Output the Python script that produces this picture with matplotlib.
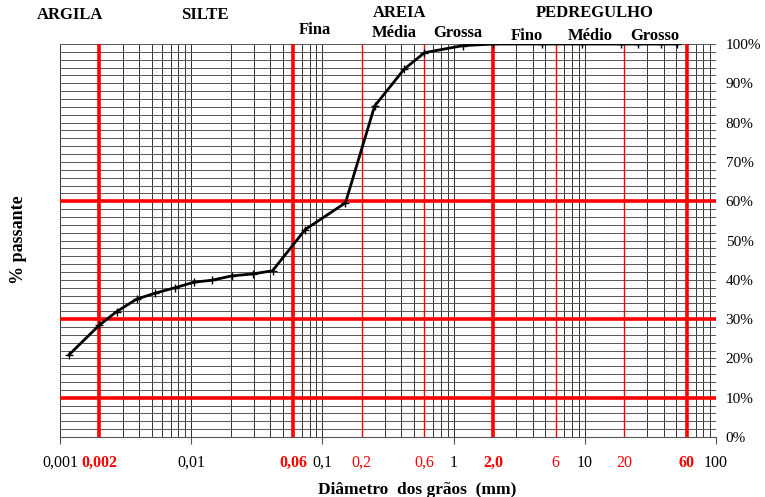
import matplotlib.pyplot as plt
import numpy as np

plt.rcParams['font.family'] = ['Liberation Serif', 'DejaVu Serif']

# curva granulométrica (diâmetro em mm, % passante)
diam = [0.00117, 0.002, 0.0027, 0.00385, 0.0053, 0.00755, 0.0105, 0.0144,
        0.0204, 0.0294, 0.0417, 0.074, 0.15, 0.25, 0.42, 0.6, 1.18, 2.0,
        4.75, 9.5, 19.0, 25.4, 38.0, 50.8]
passante = [20.9, 28.5, 31.9, 35.1, 36.6, 38.0, 39.4, 39.9,
            41.0, 41.5, 42.3, 52.8, 59.6, 84.2, 93.6, 97.8, 99.6, 100.0,
            100.0, 100.0, 100.0, 100.0, 100.0, 100.0]

# linhas de referência
red_thick_x = [0.002, 0.06, 2.0, 60]
red_thin_x = [0.2, 0.6, 6, 20]
red_y = [10, 30, 60]

xtick_pos = [0.001, 0.002, 0.01, 0.06, 0.1, 0.2, 0.6, 1, 2.0, 6, 10, 20, 60, 100]
xtick_lab = ['0,001', '0,002', '0,01', '0,06', '0,1', '0,2', '0,6', '1', '2,0',
             '6', '10', '20', '60', '100']
xtick_style = ['k', 'rb', 'k', 'rb', 'k', 'r', 'r', 'k', 'rb', 'r', 'k', 'r', 'rb', 'k']

fig = plt.figure(figsize=(7.65, 4.97), dpi=100)
ax = fig.add_axes([0.0784, 0.1207, 0.8575, 0.7907])
ax.set_xscale('log')
ax.set_xlim(0.001, 100)
ax.set_ylim(0, 100)

# grade vertical (log) e horizontal a cada 2%
for dec in [0.001, 0.01, 0.1, 1, 10]:
    for m in range(1, 11):
        ax.axvline(dec * m, color='#333333', lw=0.7, zorder=1)
for yy in range(0, 101, 2):
    ax.axhline(yy, color='#555555', lw=0.7, zorder=1)

for xv in red_thick_x:
    ax.axvline(xv, color='red', lw=2.6, zorder=2)
for xv in red_thin_x:
    ax.axvline(xv, color='red', lw=1.0, zorder=2)
for yv in red_y:
    ax.axhline(yv, color='red', lw=2.6, zorder=2)

ax.plot(diam, passante, color='black', lw=2, marker='+', ms=6, mew=1, zorder=4)

for s in ax.spines.values():
    s.set_visible(False)
ax.spines['bottom'].set_visible(True)
ax.spines['bottom'].set_color('#555555')

ax.set_xticks(xtick_pos)
ax.set_xticklabels(xtick_lab)
ax.minorticks_off()
ax.set_xticks([], minor=True)
ax.tick_params(axis='x', length=5, width=0.8, color='#555555', labelsize=11.5, pad=8)
for tick, lab, st in zip(ax.xaxis.get_major_ticks(), ax.get_xticklabels(), xtick_style):
    if st != 'k':
        tick.tick1line.set_visible(False)
        lab.set_color('red')
        if 'b' in st:
            lab.set_fontweight('bold')

ax.yaxis.tick_right()
ax.set_yticks(range(0, 101, 10))
ax.set_yticklabels([f'{v}%' for v in range(0, 101, 10)])
ax.tick_params(axis='y', length=0, labelsize=11, pad=7)

ax.set_xlabel('Diâmetro  dos grãos  (mm)', fontsize=12.5, fontweight='bold', labelpad=6)
ax.xaxis.set_label_coords(0.545, -0.115)
fig.text(0.024, 0.517, '% passante', rotation=90, fontsize=13, fontweight='bold',
         ha='center', va='center')

labels = [
    ('ARGILA', 70, 15), ('SILTE', 205, 15), ('Fina', 315, 30),
    ('AREIA', 400, 13), ('Média', 394, 33), ('Grossa', 458, 33),
    ('PEDREGULHO', 595, 13), ('Fino', 527, 36), ('Médio', 590, 36),
    ('Grosso', 655, 36),
]
for txt, px, py in labels:
    fig.text(px / 765, 1 - py / 497, txt, fontsize=12, fontweight='bold',
             ha='center', va='center')

fig.savefig('out.png', dpi=100)
